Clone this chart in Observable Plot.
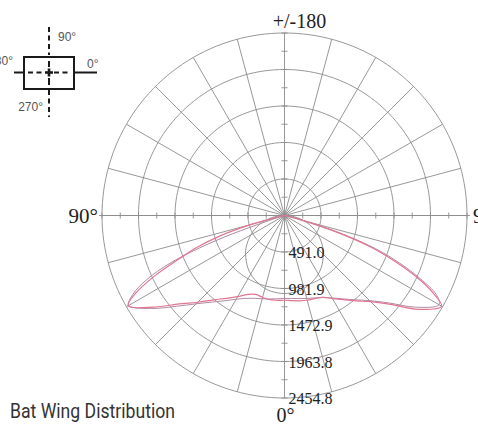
<!DOCTYPE html>
<html>
<head>
<meta charset="utf-8">
<script src="https://cdn.jsdelivr.net/npm/d3@7"></script>
<script src="https://cdn.jsdelivr.net/npm/@observablehq/plot@0.6"></script>
<style>
  body { margin: 0; background: #fff; }
  #wrap { position: relative; width: 478px; height: 425px; overflow: hidden; }
  #chart svg { display: block; }
  #key { position: absolute; left: 0; top: 0; }
  #title { position: absolute; left: 10px; top: 401px; font-family: Roboto, "Liberation Sans", sans-serif;
           font-size: 20px; line-height: 20px; color: #333; white-space: nowrap; transform-origin: 0 0; }
</style>
</head>
<body>
<div id="wrap">
  <div id="chart"></div>
  <svg id="key" width="112" height="122">
    <g stroke="#1a1a1a" fill="none" stroke-width="2">
      <rect x="24" y="57" width="50" height="32"></rect>
      <line x1="14" y1="72.5" x2="24" y2="72.5"></line>
      <line x1="74" y1="72.5" x2="97" y2="72.5"></line>
      <line x1="28" y1="72.5" x2="44" y2="72.5" stroke-dasharray="5 3.5"></line>
      <line x1="54" y1="72.5" x2="70" y2="72.5" stroke-dasharray="5 3.5"></line>
      <line x1="49" y1="27" x2="49" y2="55" stroke-dasharray="5 3.5"></line>
      <line x1="49" y1="61" x2="49" y2="67"></line>
      <line x1="49" y1="78" x2="49" y2="85"></line>
      <line x1="49" y1="90" x2="49" y2="117" stroke-dasharray="5 3.5"></line>
      <line x1="45" y1="72.5" x2="53" y2="72.5" stroke-width="2.6"></line>
      <line x1="49" y1="68.5" x2="49" y2="76.5" stroke-width="2.6"></line>
    </g>
    <g font-family="'Liberation Sans', Arial, sans-serif" font-size="12" fill="#555">
      <text x="58" y="41">90°</text>
      <text x="13" y="65" text-anchor="end">180°</text>
      <text x="87" y="68">0°</text>
      <text x="43" y="111" text-anchor="end">270°</text>
    </g>
  </svg>
  <div id="title">Bat Wing Distribution</div>
</div>
<script>
// ---- data ----
const ringValues = [491.0, 981.9, 1472.9, 1963.8, 2454.8];
const ringLabels = ["491.0", "981.9", "1472.9", "1963.8", "2454.8"];
const spokeAngles = [0, 15, 30, 45, 60, 75, 90, 105, 120, 135, 150, 165, 180, 195, 210, 225, 240, 255, 270, 285, 300, 315, 330, 345];
const verticalAngles = [0, 5, 10, 15, 20, 25, 30, 35, 40, 45, 50, 55, 60, 62.5, 65, 67.5, 70, 72.5, 75, 80, 85, 90];
// candela values per vertical angle
const plane0   = [1140, 1150, 1165, 1180, 1190, 1215, 1290, 1380, 1500, 1640, 1860, 2200, 2440, 2250, 1960, 1600, 1220, 700, 250, 40, 10, 0];
const plane180 = [1140, 1145, 1150, 1140, 1130, 1170, 1260, 1360, 1480, 1650, 1850, 2150, 2430, 2250, 1930, 1550, 1250, 900, 450, 60, 10, 0];
const plane90  = [1110, 1120, 1135, 1155, 1180, 1215, 1280, 1370, 1480, 1620, 1830, 2150, 2400, 2300, 2020, 1680, 1300, 780, 280, 40, 10, 0];
const plane270 = [1115, 1125, 1140, 1160, 1185, 1230, 1300, 1400, 1520, 1680, 1900, 2180, 2420, 2300, 2050, 1640, 950, 150, 20, 0, 0, 0];
const roundCurve = [1050, 1045, 1035, 1015, 985, 950, 910, 860, 800, 740, 675, 600, 525, 485, 445, 400, 360, 315, 270, 180, 90, 0];

// ---- derived tables ----
const rad = Math.PI / 180;
const R = ringValues[ringValues.length - 1];
const cx = 284, cy = 215, rpx = 182.5;
const gridColor = "#8c8c8c";

function curveRows(leftVals, rightVals) {
  const left = verticalAngles.map((a, i) => ({a: -a, v: leftVals[i]})).reverse();
  const right = verticalAngles.map((a, i) => ({a, v: rightVals[i]}));
  return left.concat(right.slice(1));
}
const px = d => d.v * Math.sin(d.a * rad);
const py = d => -d.v * Math.cos(d.a * rad);

const ringRows = ringValues.flatMap(v => d3.range(0, 361, 2).map(a => ({v, a})));
const tickValues = ringValues.flatMap((v, i) => [(v + (i ? ringValues[i - 1] : 0)) / 2, v]);
const signedTicks = tickValues.flatMap(v => [v, -v]);

const vTick = {draw(ctx) { ctx.moveTo(0, -3); ctx.lineTo(0, 3); }};
const hTick = {draw(ctx) { ctx.moveTo(-3, 0); ctx.lineTo(3, 0); }};

const chart = Plot.plot({
  width: 478,
  height: 425,
  marginLeft: 99, marginRight: 8, marginTop: 0, marginBottom: 0,
  x: {domain: [-R, R], range: [cx - rpx, cx + rpx], axis: null},
  y: {domain: [-R, R], range: [cy + rpx, cy - rpx], axis: null},
  style: {fontFamily: "'Liberation Serif', 'Times New Roman', serif", background: "transparent", overflow: "visible"},
  marks: [
    Plot.line(ringRows, {x: d => d.v * Math.sin(d.a * rad), y: d => d.v * Math.cos(d.a * rad), z: "v", stroke: gridColor, strokeWidth: 0.9}),
    Plot.link(spokeAngles, {x1: 0, y1: 0, x2: a => R * Math.sin(a * rad), y2: a => R * Math.cos(a * rad), stroke: gridColor, strokeWidth: 0.9}),
    Plot.ruleY([0], {stroke: gridColor, strokeWidth: 0.9}),
    Plot.dot(signedTicks, {x: d => d, y: 0, symbol: vTick, r: 3, stroke: gridColor, fill: "none", strokeWidth: 0.9}),
    Plot.dot(signedTicks, {x: 0, y: d => d, symbol: hTick, r: 3, stroke: gridColor, fill: "none", strokeWidth: 0.9}),
    Plot.line(curveRows(roundCurve, roundCurve), {x: px, y: py, stroke: "#8a8a8a", strokeWidth: 0.9, curve: "catmull-rom"}),
    Plot.line(curveRows(plane270, plane90), {x: px, y: py, stroke: "#b08aa6", strokeWidth: 1, curve: "catmull-rom"}),
    Plot.line(curveRows(plane180, plane0), {x: px, y: py, stroke: "#e27590", strokeWidth: 1.2, curve: "catmull-rom"}),
    Plot.text(ringValues, {x: 0, y: d => -d, text: (d, i) => ringLabels[i], textAnchor: "start", lineAnchor: "middle", dx: 4, dy: 1, fontSize: 16, fill: "#222"}),
    Plot.text(["+/-180"], {x: 0, y: R, text: d => d, textAnchor: "middle", lineAnchor: "bottom", dx: 15, dy: -5, fontSize: 20, fill: "#222"}),
    Plot.text(["0°"], {x: 0, y: -R, text: d => d, textAnchor: "middle", lineAnchor: "top", dx: 1, dy: 10, fontSize: 20, fill: "#222"}),
    Plot.text(["90°"], {x: -R, y: 0, text: d => d, textAnchor: "end", lineAnchor: "middle", dx: -4, dy: 1, fontSize: 21, fill: "#222"}),
    Plot.text(["90°"], {x: R, y: 0, text: d => d, textAnchor: "start", lineAnchor: "middle", dx: 6, dy: 1, fontSize: 21, fill: "#222"})
  ]
});
document.getElementById("chart").appendChild(chart);

// condense the title to the reference width
const title = document.getElementById("title");
const w = title.getBoundingClientRect().width;
if (w > 0) title.style.transform = `scaleX(${165 / w})`;
</script>
</body>
</html>
